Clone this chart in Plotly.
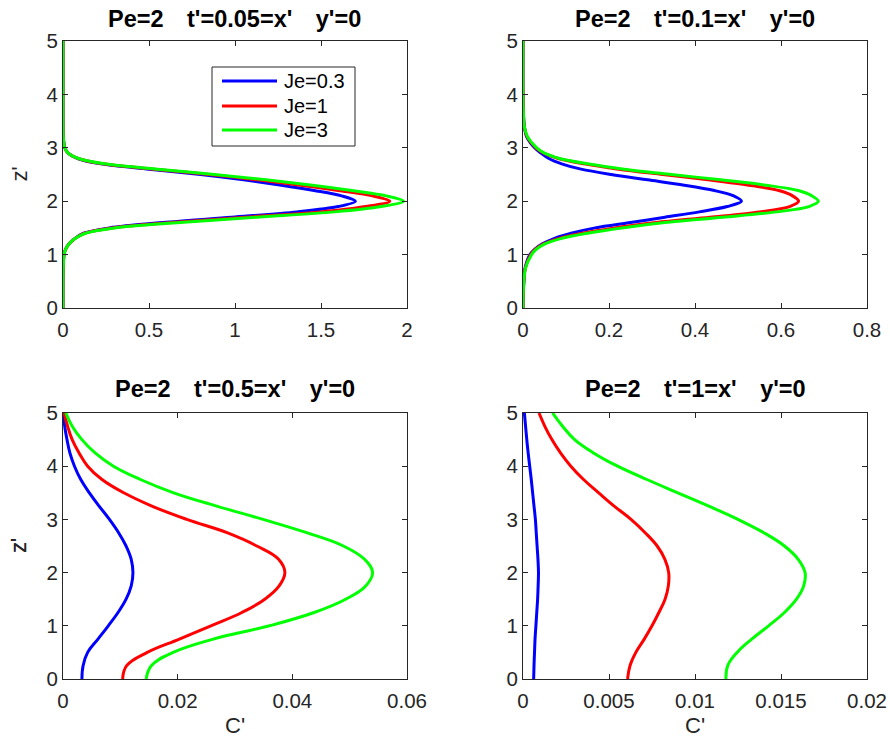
import plotly.graph_objects as go

# ---------------- data ----------------
je_labels = ["Je=0.3", "Je=1", "Je=3"]
colors = ["#0000FF", "#FF0000", "#00FF00"]

# panel 1: t'=0.05
z_a = [0, 0.5, 0.8, 1.0, 1.1, 1.2, 1.3, 1.4, 1.5, 1.6, 1.7, 1.8, 1.9, 2.0,
       2.1, 2.2, 2.3, 2.4, 2.5, 2.6, 2.7, 2.8, 2.9, 3.0, 3.2, 3.5, 4.0, 5.0]
c_a_je03 = [0, 0, 0.002, 0.006, 0.015, 0.034, 0.068, 0.12, 0.27, 0.58, 0.98, 1.36, 1.60, 1.70,
            1.62, 1.46, 1.27, 1.05, 0.80, 0.50, 0.22, 0.085, 0.03, 0.01, 0.002, 0, 0, 0]
c_a_je1 = [0, 0, 0.002, 0.006, 0.015, 0.035, 0.07, 0.125, 0.285, 0.63, 1.06, 1.50, 1.76, 1.90,
           1.80, 1.60, 1.38, 1.13, 0.85, 0.53, 0.23, 0.088, 0.03, 0.01, 0.002, 0, 0, 0]
c_a_je3 = [0, 0, 0.002, 0.006, 0.015, 0.035, 0.07, 0.13, 0.30, 0.68, 1.12, 1.58, 1.85, 1.98,
           1.88, 1.68, 1.45, 1.18, 0.88, 0.55, 0.24, 0.09, 0.03, 0.01, 0.002, 0, 0, 0]

# panel 2: t'=0.1
z_b = [0, 0.25, 0.5, 0.75, 1.0, 1.1, 1.2, 1.3, 1.4, 1.5, 1.6, 1.7, 1.8, 1.9, 2.0,
       2.1, 2.2, 2.3, 2.4, 2.5, 2.6, 2.7, 2.8, 2.9, 3.0, 3.2, 3.4, 3.7, 4.0, 5.0]
c_b_je03 = [0, 0.0005, 0.002, 0.005, 0.016, 0.027, 0.045, 0.072, 0.112, 0.168, 0.25, 0.33, 0.41, 0.475, 0.508,
            0.49, 0.445, 0.375, 0.29, 0.205, 0.135, 0.09, 0.06, 0.042, 0.027, 0.009, 0.003, 0.0008, 0, 0]
c_b_je1 = [0, 0.0005, 0.002, 0.0055, 0.018, 0.029, 0.048, 0.082, 0.138, 0.213, 0.31, 0.435, 0.55, 0.62, 0.641,
           0.627, 0.595, 0.525, 0.43, 0.325, 0.222, 0.142, 0.082, 0.048, 0.03, 0.01, 0.003, 0.0008, 0, 0]
c_b_je3 = [0, 0.0005, 0.002, 0.006, 0.02, 0.031, 0.051, 0.088, 0.15, 0.23, 0.33, 0.465, 0.59, 0.665, 0.687,
           0.672, 0.64, 0.565, 0.46, 0.345, 0.235, 0.15, 0.085, 0.05, 0.032, 0.011, 0.003, 0.0008, 0, 0]

# panels 3 & 4: t'=0.5 and t'=1
z_cd = [0, 0.25, 0.5, 0.75, 1.0, 1.25, 1.5, 1.75, 2.0, 2.25, 2.5, 2.75, 3.0,
        3.25, 3.5, 3.75, 4.0, 4.25, 4.5, 4.75, 5.0]
c_c_je03 = [0.0033, 0.0035, 0.0043, 0.0061, 0.0079, 0.0096, 0.0110, 0.0119, 0.0122, 0.0119, 0.0110,
            0.0097, 0.0081, 0.0063, 0.0046, 0.0031, 0.0020, 0.0012, 0.0007, 0.0003, 0.0001]
c_c_je1 = [0.0104, 0.0111, 0.0147, 0.0203, 0.0258, 0.0312, 0.0352, 0.0377, 0.0387, 0.0376, 0.0338,
           0.0286, 0.0216, 0.0155, 0.0106, 0.0068, 0.0043, 0.0028, 0.0016, 0.0008, 0.0002]
c_c_je3 = [0.0145, 0.0154, 0.0192, 0.0262, 0.0360, 0.0438, 0.0493, 0.0528, 0.0540, 0.0526, 0.0489,
           0.0425, 0.0349, 0.0268, 0.0193, 0.0135, 0.0088, 0.0056, 0.0033, 0.0016, 0.0005]

c_d_je03 = [0.00062, 0.00064, 0.00067, 0.0007, 0.00075, 0.0008, 0.00085, 0.00088, 0.0009, 0.00087, 0.00082,
            0.00077, 0.00072, 0.00064, 0.00056, 0.00048, 0.00039, 0.0003, 0.00022, 0.00015, 0.00008]
c_d_je1 = [0.00608, 0.00622, 0.00656, 0.00705, 0.0075, 0.0079, 0.00826, 0.00845, 0.00847, 0.00825, 0.0078,
           0.0071, 0.00628, 0.0053, 0.0044, 0.00352, 0.00278, 0.00218, 0.00168, 0.00127, 0.00093]
c_d_je3 = [0.0118, 0.0119, 0.01245, 0.0133, 0.01428, 0.0152, 0.0159, 0.01632, 0.0164, 0.0160, 0.0152,
           0.0140, 0.0125, 0.0108, 0.0090, 0.0072, 0.0055, 0.0041, 0.0030, 0.0023, 0.00172]

SP = "&nbsp;&nbsp;&nbsp;&#8198;"
titles = ["Pe=2" + SP + "t'=0.05=x'" + SP + "y'=0",
          "Pe=2" + SP + "t'=0.1=x'" + SP + "y'=0",
          "Pe=2" + SP + "t'=0.5=x'" + SP + "y'=0",
          "Pe=2" + SP + "t'=1=x'" + SP + "y'=0"]
xticks = [[0, 0.5, 1, 1.5, 2], [0, 0.2, 0.4, 0.6, 0.8],
          [0, 0.02, 0.04, 0.06], [0, 0.005, 0.01, 0.015, 0.02]]
xtick_text = [["0", "0.5", "1", "1.5", "2"], ["0", "0.2", "0.4", "0.6", "0.8"],
              ["0", "0.02", "0.04", "0.06"], ["0", "0.005", "0.01", "0.015", "0.02"]]
yticks = [0, 1, 2, 3, 4, 5]

panels = [
    (z_a, [c_a_je03, c_a_je1, c_a_je3]),
    (z_b, [c_b_je03, c_b_je1, c_b_je3]),
    (z_cd, [c_c_je03, c_c_je1, c_c_je3]),
    (z_cd, [c_d_je03, c_d_je1, c_d_je3]),
]

# ---------------- layout geometry ----------------
W, H = 890, 738
xdoms = [[63 / W, 407 / W], [523 / W, 867 / W]]
ydoms = [[1 - 308 / H, 1 - 41 / H], [1 - 679 / H, 1 - 413 / H]]

fig = go.Figure()
font_fam = "Liberation Sans, Arial, Helvetica, sans-serif"
axcol = "#262626"

for i, (zz, series) in enumerate(panels):
    row, col = divmod(i, 2)
    ax = "" if i == 0 else str(i + 1)
    for k, cc in enumerate(series):
        fig.add_trace(go.Scatter(
            x=cc, y=zz, mode="lines",
            line=dict(color=colors[k], width=3, shape="spline",
                      smoothing=0.9 if row == 0 else 1.15),
            name=je_labels[k], showlegend=False,
            xaxis="x" + ax, yaxis="y" + ax,
        ))
    common = dict(showline=True, mirror="ticks", ticks="inside", ticklen=5,
                  linecolor=axcol, linewidth=1, tickcolor=axcol, showgrid=False,
                  zeroline=False, automargin=False,
                  tickfont=dict(family=font_fam, size=20.5, color=axcol))
    fig.layout["xaxis" + ax] = dict(
        domain=xdoms[col], anchor="y" + ax,
        range=[xticks[i][0], xticks[i][-1]], tickvals=xticks[i], ticktext=xtick_text[i],
        ticklabelstandoff=3, **common)
    fig.layout["yaxis" + ax] = dict(
        domain=ydoms[row], anchor="x" + ax, range=[0, 5], tickvals=yticks, **common)

    xc = (xdoms[col][0] + xdoms[col][1]) / 2
    ty = 1 - (19 if row == 0 else 389) / H
    fig.add_annotation(text="<b>" + titles[i] + "</b>", x=xc, y=ty, xref="paper", yref="paper",
                       showarrow=False, xanchor="center", yanchor="middle",
                       font=dict(family=font_fam, size=23.5, color="black"))
    if i != 1:
        yc = (ydoms[row][0] + ydoms[row][1]) / 2
        fig.add_annotation(text="z'", x=19 / W, y=yc, xref="paper", yref="paper", textangle=-90,
                           showarrow=False, xanchor="center", yanchor="middle",
                           font=dict(family=font_fam, size=22, color=axcol))
    if row == 1:
        fig.add_annotation(text="C'", x=xc, y=1 - 725 / H, xref="paper", yref="paper",
                           showarrow=False, xanchor="center", yanchor="middle",
                           font=dict(family=font_fam, size=22, color=axcol))

# legend box (drawn to match the reference's compact legend)
leg_box = (212, 67, 355, 146)
leg_rows = [81, 106, 130]
fig.add_shape(type="rect", xref="paper", yref="paper",
              x0=leg_box[0] / W, x1=leg_box[2] / W, y0=1 - leg_box[3] / H, y1=1 - leg_box[1] / H,
              line=dict(color=axcol, width=1), fillcolor="white", layer="above")
for k, ly in enumerate(leg_rows):
    fig.add_shape(type="line", xref="paper", yref="paper",
                  x0=222 / W, x1=277 / W, y0=1 - ly / H, y1=1 - ly / H,
                  line=dict(color=colors[k], width=3), layer="above")
    fig.add_annotation(text=je_labels[k], x=282 / W, y=1 - ly / H, xref="paper", yref="paper",
                       showarrow=False, xanchor="left", yanchor="middle",
                       font=dict(family=font_fam, size=20, color="black"))

fig.update_layout(
    width=W, height=H, margin=dict(l=0, r=0, t=0, b=0, pad=0, autoexpand=False),
    paper_bgcolor="white", plot_bgcolor="white", showlegend=False,
)

fig.write_html("out.html", config={"displayModeBar": False},
               post_script="document.body.style.margin='0';document.body.style.overflow='hidden';")
